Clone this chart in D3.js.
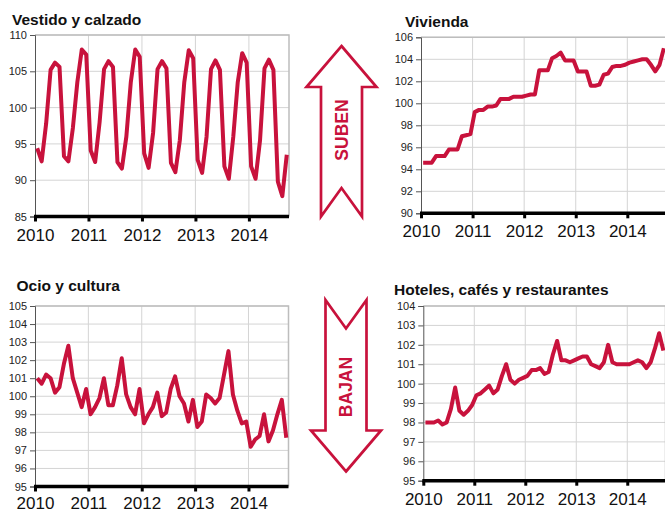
<!DOCTYPE html>
<html>
<head>
<meta charset="utf-8">
<script src="https://cdn.jsdelivr.net/npm/d3@7"></script>
<style>
  body { margin: 0; background: #fff; }
  svg { display: block; font-family: "Liberation Sans", Arial, sans-serif; }
</style>
</head>
<body>
<div id="chart"></div>
<script>
// monthly index, Jan 2010 .. Sep 2014
var years = ['2010', '2011', '2012', '2013', '2014'];
var nMonths = 57;

var vestido = [94.4, 92.6, 97.8, 105.2, 106.2, 105.6, 93.3, 92.6, 97.2, 103.5, 108, 107.3,
	94.1, 92.5, 98, 105.3, 106.4, 105.6, 92.5, 91.6, 96, 103.5, 108, 107,
	93.7, 91.7, 96.5, 105.3, 106.4, 105.4, 92.4, 91.1, 95.5, 103.5, 107.9, 106.8,
	92.8, 91, 96, 105.3, 106.5, 105.2, 91.9, 90.2, 96, 103.5, 107.5, 106.2,
	91.9, 90.2, 95.5, 105.4, 106.6, 105.2, 89.8, 87.8, 93.5];

var vivienda = [94.6, 94.6, 94.6, 95.2, 95.2, 95.2, 95.8, 95.8, 95.8, 97, 97.1, 97.2,
	99.2, 99.4, 99.4, 99.7, 99.7, 99.8, 100.4, 100.4, 100.4, 100.6, 100.6, 100.6,
	100.7, 100.8, 100.8, 103, 103, 103, 104.1, 104.3, 104.6, 103.9, 103.9, 103.9,
	102.9, 102.9, 102.9, 101.6, 101.6, 101.7, 102.6, 102.7, 103.3, 103.4, 103.4, 103.5,
	103.7, 103.8, 103.9, 104, 104, 103.5, 102.9, 103.5, 105];

var ocio = [101, 100.7, 101.2, 101, 100.2, 100.5, 101.8, 102.8, 101, 100.2, 99.4, 100.4,
	99, 99.4, 99.9, 101, 99.5, 99.5, 100.6, 102.1, 100.1, 99.4, 99, 100.4,
	98.5, 99, 99.4, 100.2, 98.9, 99.1, 100.4, 101.1, 100, 99.6, 98.6, 99.8,
	98.3, 98.6, 100.1, 99.9, 99.6, 99.9, 101.2, 102.5, 100.1, 99.2, 98.5, 98.6,
	97.2, 97.6, 97.8, 99, 97.5, 98.1, 99, 99.8, 97.7];

var hoteles = [98, 98, 98, 98.1, 97.9, 98, 98.7, 99.8, 98.6, 98.4, 98.6, 98.9,
	99.4, 99.5, 99.7, 99.9, 99.5, 99.7, 100.4, 101, 100.2, 100, 100.2, 100.3,
	100.4, 100.7, 100.7, 100.8, 100.5, 100.6, 101.5, 102.2, 101.2, 101.2, 101.1, 101.2,
	101.3, 101.4, 101.4, 101, 100.9, 100.8, 101.1, 102, 101.1, 101, 101, 101,
	101, 101.1, 101.2, 101.1, 100.8, 101.1, 101.8, 102.6, 101.7];

var red = '#c8123c';

var svg = d3.select('#chart').append('svg')
	.attr('width', 665)
	.attr('height', 513);

var panels = [
	{ title: 'Vestido y calzado', data: vestido, x0: 35, x1: 289, y0: 35, y1: 216.5, dom: [85, 110], step: 5, tx: 12, ty: 25, pad: 7 },
	{ title: 'Vivienda', data: vivienda, x0: 421, x1: 666, y0: 37.3, y1: 213.3, dom: [90, 106], step: 2, tx: 405, ty: 27, pad: 7 },
	{ title: 'Ocio y cultura', data: ocio, x0: 35, x1: 288.5, y0: 306, y1: 486.5, dom: [95, 105], step: 1, tx: 16.5, ty: 291, pad: 5 },
	{ title: 'Hoteles, cafés y restaurantes', data: hoteles, x0: 423.3, x1: 665.5, y0: 306, y1: 480.7, dom: [95, 104], step: 1, tx: 394, ty: 295, pad: 7 }
];

panels.forEach(drawPanel);

function drawPanel(p) {
	var g = svg.append('g');
	var x = d3.scaleLinear().domain([0, nMonths]).range([p.x0, p.x1]);
	var y = d3.scaleLinear().domain(p.dom).range([p.y1, p.y0]);
	var yTicks = d3.range(p.dom[0], p.dom[1] + 0.001, p.step);
	var xTicks = years.map((d, i) => i * 12);

	// grid
	g.append('g').selectAll('line.h')
		.data(yTicks.slice(1))
		.enter().append('line')
		.attr('x1', p.x0).attr('x2', p.x1)
		.attr('y1', d => y(d)).attr('y2', d => y(d))
		.attr('stroke', '#d4d4d4').attr('stroke-width', 1);
	g.append('g').selectAll('line.v')
		.data(xTicks.slice(1))
		.enter().append('line')
		.attr('x1', d => x(d)).attr('x2', d => x(d))
		.attr('y1', p.y0).attr('y2', p.y1)
		.attr('stroke', '#d4d4d4').attr('stroke-width', 1);

	// top/right frame
	g.append('path')
		.attr('d', 'M' + p.x0 + ',' + p.y0 + 'H' + p.x1 + 'V' + p.y1)
		.attr('fill', 'none')
		.attr('stroke', '#bdbdbd')
		.attr('stroke-width', 1.5);

	// y axis
	var yAxis = d3.axisLeft(y).tickValues(yTicks).tickSize(5).tickPadding(3).tickFormat(d3.format('d'));
	var ya = g.append('g')
		.attr('transform', 'translate(' + p.x0 + ',0)')
		.call(yAxis);
	ya.select('.domain').attr('stroke', '#555');
	ya.selectAll('.tick line').attr('stroke', '#555');
	ya.selectAll('text')
		.attr('fill', '#222')
		.style('font-size', '11px')
		.style('font-family', '"Liberation Sans", Arial, sans-serif');

	// x axis
	var xAxis = d3.axisBottom(x).tickValues(xTicks).tickSize(5).tickPadding(p.pad)
		.tickFormat((d, i) => years[i]);
	var xa = g.append('g')
		.attr('transform', 'translate(0,' + p.y1 + ')')
		.call(xAxis);
	xa.select('.domain').remove();
	xa.append('line')
		.attr('x1', p.x0 - 1).attr('x2', p.x1)
		.attr('stroke', '#000').attr('stroke-width', 3.5);
	xa.selectAll('.tick line').attr('stroke', '#000').attr('stroke-width', 3);
	xa.selectAll('text')
		.attr('fill', '#111')
		.style('font-size', '17px')
		.style('font-family', '"Liberation Sans", Arial, sans-serif');

	// series
	var line = d3.line()
		.x((d, i) => x(i + 0.5))
		.y(d => y(d));
	g.append('path')
		.datum(p.data)
		.attr('d', line)
		.attr('fill', 'none')
		.attr('stroke', red)
		.attr('stroke-width', 4)
		.attr('stroke-linejoin', 'round');

	g.append('text')
		.attr('x', p.tx).attr('y', p.ty)
		.attr('fill', '#111')
		.style('font-size', '15.5px')
		.style('font-weight', 'bold')
		.text(p.title);
}

// arrows between the panels
function arrow(cx, top, bottom, up, label) {
	var hw = 35, sw = 20.5, head = 41, notch = 28.5;
	var d;
	if (up) {
		d = 'M' + cx + ',' + top +
			'L' + (cx + hw) + ',' + (top + head) +
			'L' + (cx + sw) + ',' + (top + head) +
			'L' + (cx + sw) + ',' + bottom +
			'L' + cx + ',' + (bottom - notch) +
			'L' + (cx - sw) + ',' + bottom +
			'L' + (cx - sw) + ',' + (top + head) +
			'L' + (cx - hw) + ',' + (top + head) + 'Z';
	} else {
		d = 'M' + cx + ',' + bottom +
			'L' + (cx + hw) + ',' + (bottom - head) +
			'L' + (cx + sw) + ',' + (bottom - head) +
			'L' + (cx + sw) + ',' + top +
			'L' + cx + ',' + (top + notch) +
			'L' + (cx - sw) + ',' + top +
			'L' + (cx - sw) + ',' + (bottom - head) +
			'L' + (cx - hw) + ',' + (bottom - head) + 'Z';
	}
	svg.append('path')
		.attr('d', d)
		.attr('fill', '#fff')
		.attr('stroke', red)
		.attr('stroke-width', 2.7)
		.attr('stroke-linejoin', 'miter');
	var my = up ? 130 : 387;
	svg.append('text')
		.attr('transform', 'translate(' + (cx + 6) + ',' + my + ') rotate(-90)')
		.attr('text-anchor', 'middle')
		.attr('fill', red)
		.style('font-size', '17.5px')
		.style('font-weight', 'bold')
		.text(label);
}

arrow(341.5, 46, 216.5, true, 'SUBEN');
arrow(346, 300, 471.5, false, 'BAJAN');
</script>
</body>
</html>
